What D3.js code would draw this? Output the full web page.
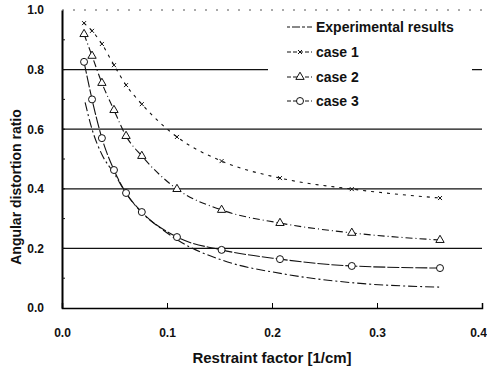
<html>
<head>
  <meta charset="utf-8"/>
  <title>Angular distortion ratio</title>
  <style>
    body { margin: 0; background: #fff; }
    text { font-family: "Liberation Sans", Arial, sans-serif; font-weight: bold; fill: #111; }
  </style>
</head>
<body>
  <div id="chart"></div>
  <script src="https://d3js.org/d3.v7.min.js"></script>
  <script>

  // data
  var xCase = [0.021, 0.0286, 0.038, 0.0495, 0.061, 0.076, 0.1095, 0.152, 0.2076, 0.276, 0.36];
  var case1 = [0.956, 0.93, 0.886, 0.815, 0.748, 0.684, 0.574, 0.493, 0.436, 0.399, 0.369];
  var case2 = [0.919, 0.846, 0.755, 0.664, 0.577, 0.51, 0.399, 0.329, 0.285, 0.252, 0.228];
  var case3 = [0.826, 0.70, 0.57, 0.463, 0.386, 0.322, 0.238, 0.195, 0.164, 0.141, 0.134];
  var xExp = [0.022, 0.0286, 0.038, 0.05, 0.061, 0.076, 0.095, 0.11, 0.153, 0.21, 0.276, 0.36];
  var yExp = [0.69, 0.60, 0.515, 0.45, 0.385, 0.32, 0.265, 0.228, 0.16, 0.115, 0.085, 0.07];
  var xTicks = [0.0, 0.1, 0.2, 0.3, 0.4];
  var yTicks = [0.0, 0.2, 0.4, 0.6, 0.8, 1.0];
  var legendNames = ["Experimental results", "case 1", "case 2", "case 3"];

  var W = 487, H = 371;
  var svg = d3.select("#chart").append("svg")
    .attr("width", W).attr("height", H);

  var x = d3.scaleLinear().domain([0, 0.4]).range([62, 482]);
  var y = d3.scaleLinear().domain([0, 1]).range([308, 10]);

  // grid lines
  svg.selectAll(".grid").data([0.2, 0.4, 0.6, 0.8]).enter().append("line")
    .attr("x1", x(0)).attr("x2", x(0.4))
    .attr("y1", function(d){ return y(d); }).attr("y2", function(d){ return y(d); })
    .attr("stroke", "#111").attr("stroke-width", 1.3);

  // faint dotted top border
  svg.append("line")
    .attr("x1", x(0)).attr("x2", x(0.4)).attr("y1", y(1)).attr("y2", y(1))
    .attr("stroke", "#555").attr("stroke-width", 1).attr("stroke-dasharray", "2,9");

  // axes
  var xAxis = d3.axisBottom(x).tickValues(xTicks).tickSize(-5).tickFormat(d3.format(".1f")).tickPadding(20);
  var gx = svg.append("g").attr("transform", "translate(0," + y(0) + ")").call(xAxis);
  gx.select(".domain").attr("stroke-width", 1.5);
  gx.selectAll("text").style("font-size", "12px")
    .attr("dx", function(d){ return d == 0.4 ? -4 : 0; });

  var yAxis = d3.axisLeft(y).tickValues(yTicks).tickSize(0).tickFormat(d3.format(".1f")).tickPadding(18);
  var gy = svg.append("g").attr("transform", "translate(" + x(0) + ",0)").call(yAxis);
  gy.select(".domain").attr("stroke-width", 2);
  gy.selectAll("text").style("font-size", "12px");

  // small inner ticks on the y axis
  svg.selectAll(".ytick").data(d3.range(1, 10).map(function(i){ return i / 10; })).enter().append("line")
    .attr("x1", x(0)).attr("x2", x(0) + 3)
    .attr("y1", function(d){ return y(d); }).attr("y2", function(d){ return y(d); })
    .attr("stroke", "#111").attr("stroke-width", 1);

  // axis titles
  svg.append("text").attr("x", 272).attr("y", 363).attr("text-anchor", "middle")
    .style("font-size", "15px").text("Restraint factor [1/cm]");
  svg.append("text").attr("transform", "translate(21,187) rotate(-90)").attr("text-anchor", "middle")
    .style("font-size", "14px").text("Angular distortion ratio");

  var line = d3.line().curve(d3.curveMonotoneX)
    .x(function(d){ return x(d[0]); }).y(function(d){ return y(d[1]); });

  var series = [
    { pts: d3.zip(xExp, yExp), dash: "9,3,2,3", mark: null },
    { pts: d3.zip(xCase, case1), dash: "3,5", mark: "x" },
    { pts: d3.zip(xCase, case2), dash: "7,3,1,3", mark: "tri" },
    { pts: d3.zip(xCase, case3), dash: "12,2", mark: "circ" }
  ];

  function drawMark(g, kind, cx, cy) {
    if (kind == "x") {
      g.append("path").attr("d", "M" + (cx - 2) + "," + (cy - 2) + "L" + (cx + 2) + "," + (cy + 2) +
        "M" + (cx - 2) + "," + (cy + 2) + "L" + (cx + 2) + "," + (cy - 2))
        .attr("stroke", "#111").attr("stroke-width", 1).attr("fill", "none");
    } else if (kind == "tri") {
      g.append("path").attr("d", d3.symbol().type(d3.symbolTriangle).size(30)())
        .attr("transform", "translate(" + cx + "," + cy + ")")
        .attr("stroke", "#111").attr("stroke-width", 1).attr("fill", "#fff");
    } else if (kind == "circ") {
      g.append("circle").attr("cx", cx).attr("cy", cy).attr("r", 3.5)
        .attr("stroke", "#111").attr("stroke-width", 1).attr("fill", "#fff");
    }
  }

  series.forEach(function(s){
    svg.append("path").datum(s.pts).attr("d", line)
      .attr("fill", "none").attr("stroke", "#111").attr("stroke-width", 1.1)
      .attr("stroke-dasharray", s.dash);
    var g = svg.append("g");
    if (s.mark) {
      s.pts.forEach(function(p){ drawMark(g, s.mark, x(p[0]), y(p[1])); });
    }
  });

  // legend
  svg.append("rect").attr("x", 268).attr("y", 14).attr("width", 204).attr("height", 100).attr("fill", "#fff");
  var legY = [27, 52, 77, 101];
  series.forEach(function(s, i){
    svg.append("line").attr("x1", 287).attr("x2", 312).attr("y1", legY[i]).attr("y2", legY[i])
      .attr("stroke", "#111").attr("stroke-width", 1).attr("stroke-dasharray", i == 0 ? "3,2,8,2" : "4,2");
    if (s.mark) drawMark(svg, s.mark, 300, legY[i]);
    svg.append("text").attr("x", 316).attr("y", legY[i] + 5)
      .style("font-size", "14px").text(legendNames[i]);
  });

  </script>
</body>
</html>
